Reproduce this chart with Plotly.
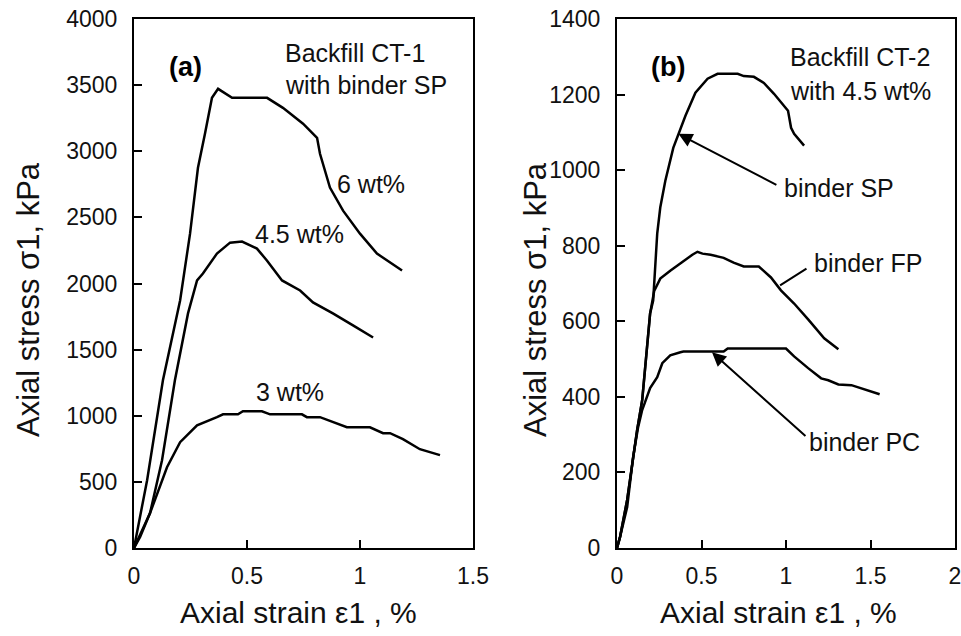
import plotly.graph_objects as go

# ---------------- data: panel (a) Backfill CT-1 with binder SP ----------------
a6_x = [0, 0.058, 0.128, 0.19, 0.204, 0.248, 0.283, 0.314, 0.345, 0.372, 0.434, 0.589,
        0.659, 0.748, 0.81, 0.823, 0.867, 0.925, 1.0, 1.075, 1.186]
a6_y = [0, 513, 1268, 1774, 1872, 2377, 2875, 3132, 3404, 3472, 3404, 3404,
        3328, 3208, 3102, 2981, 2725, 2551, 2377, 2226, 2098]

a45_x = [0, 0.071, 0.124, 0.181, 0.239, 0.279, 0.305, 0.367, 0.425, 0.478, 0.544, 0.588,
         0.655, 0.735, 0.792, 0.88, 0.969, 1.058]
a45_y = [0, 264, 664, 1268, 1774, 2023, 2075, 2226, 2309, 2317, 2264, 2174,
         2023, 1947, 1857, 1774, 1683, 1592]

a3_x = [0, 0.027, 0.071, 0.146, 0.204, 0.279, 0.367, 0.394, 0.46, 0.482, 0.566, 0.602,
        0.743, 0.765, 0.823, 0.942, 1.044, 1.102, 1.133, 1.19, 1.265, 1.354]
a3_y = [0, 83, 264, 611, 800, 928, 989, 1011, 1011, 1034, 1034, 1011,
        1011, 989, 989, 913, 913, 868, 868, 823, 747, 702]

# ---------------- data: panel (b) Backfill CT-2 with 4.5 wt% ----------------
sp_x = [0, 0.018, 0.06, 0.095, 0.119, 0.149, 0.179, 0.196, 0.214, 0.238, 0.256, 0.286,
        0.333, 0.363, 0.405, 0.464, 0.536, 0.595, 0.714, 0.75, 0.81, 0.869, 0.929,
        1.012, 1.03, 1.048, 1.107]
sp_y = [0, 29, 127, 240, 312, 391, 549, 621, 655, 832, 901, 972,
        1059, 1096, 1144, 1205, 1242, 1255, 1255, 1249, 1247, 1231, 1202,
        1157, 1112, 1096, 1065]

fp_x = [0, 0.018, 0.06, 0.095, 0.119, 0.149, 0.179, 0.196, 0.22, 0.256, 0.315, 0.393,
        0.446, 0.476, 0.506, 0.554, 0.631, 0.69, 0.75, 0.839, 0.911, 0.97, 1.048,
        1.131, 1.226, 1.31]
fp_y = [0, 29, 127, 240, 312, 391, 549, 621, 680, 713, 734, 760,
        776, 784, 779, 776, 768, 755, 745, 745, 716, 682, 647,
        605, 555, 526]

pc_x = [0, 0.018, 0.06, 0.095, 0.125, 0.149, 0.196, 0.238, 0.268, 0.315, 0.375, 0.393,
        0.631, 0.655, 1.0, 1.048, 1.131, 1.208, 1.25, 1.31, 1.387, 1.464, 1.554]
pc_y = [0, 29, 108, 240, 320, 365, 423, 452, 489, 510, 518, 520,
        520, 528, 528, 507, 476, 449, 444, 433, 431, 420, 407]

# ticks
a_xticks = [0, 0.5, 1, 1.5]
a_yticks = [0, 500, 1000, 1500, 2000, 2500, 3000, 3500, 4000]
b_xticks = [0, 0.5, 1, 1.5, 2]
b_yticks = [0, 200, 400, 600, 800, 1000, 1200, 1400]

FONT = "Arial, Liberation Sans, sans-serif"
LINE = dict(color="black", width=2.5)

# layout geometry (pixels)
W, H = 961, 636
ML, MR, MT, MB = 134, 6, 19, 88
PW, PH = W - ML - MR, H - MT - MB


def px_x(p):
    return (p - ML) / PW


def px_y(p):
    return (H - MB - p) / PH


fig = go.Figure()
for xs, ys in [(a6_x, a6_y), (a45_x, a45_y), (a3_x, a3_y)]:
    fig.add_trace(go.Scatter(x=xs, y=ys, mode="lines", line=LINE, xaxis="x", yaxis="y",
                             showlegend=False, hoverinfo="skip"))
for xs, ys in [(sp_x, sp_y), (fp_x, fp_y), (pc_x, pc_y)]:
    fig.add_trace(go.Scatter(x=xs, y=ys, mode="lines", line=LINE, xaxis="x2", yaxis="y2",
                             showlegend=False, hoverinfo="skip"))

axis_common = dict(showline=True, linecolor="black", linewidth=2, mirror=True,
                   ticks="inside", ticklen=8, tickwidth=2, tickcolor="black",
                   showgrid=False, zeroline=False, automargin=False,
                   ticklabeloverflow="allow",
                   tickfont=dict(family=FONT, size=23, color="#111"))

fig.update_layout(
    width=W, height=H,
    margin=dict(l=ML, r=MR, t=MT, b=MB, autoexpand=False),
    plot_bgcolor="white", paper_bgcolor="white",
    xaxis=dict(domain=[0, px_x(473)], range=[0, 1.5], tickvals=a_xticks,
               ticktext=["0", "0.5", "1", "1.5"], anchor="y", ticklabelstandoff=6,
               **axis_common),
    yaxis=dict(domain=[0, 1], range=[0, 4000], tickvals=a_yticks, anchor="x",
               ticklabelstandoff=10, **axis_common),
    xaxis2=dict(domain=[px_x(617), 1], range=[0, 2], tickvals=b_xticks,
                ticktext=["0", "0.5", "1", "1.5", "2"], anchor="y2", ticklabelstandoff=6,
                **axis_common),
    yaxis2=dict(domain=[0, 1], range=[0, 1400], tickvals=b_yticks, anchor="x2",
                ticklabelstandoff=10, **axis_common),
)

ann = []
TF = dict(family=FONT, size=25, color="#111")


def txt(x, y, s, xref, yref, xanchor="left", font=TF):
    ann.append(dict(x=x, y=y, xref=xref, yref=yref, text=s, showarrow=False,
                    xanchor=xanchor, yanchor="middle", font=font))


# panel (a)
txt(0.23, 3638, "<b>(a)</b>", "x", "y", "center", dict(family=FONT, size=27, color="black"))
txt(0.659, 3743, "Backfill CT-1", "x", "y")
txt(0.659, 3502, "with binder SP", "x", "y")
txt(0.889, 2755, "6 wt%", "x", "y")
txt(0.527, 2377, "4.5 wt%", "x", "y")
txt(0.531, 1177, "3 wt%", "x", "y")

# panel (b)
txt(0.304, 1273, "<b>(b)</b>", "x2", "y2", "center", dict(family=FONT, size=27, color="black"))
txt(1.012, 1300, "Backfill CT-2", "x2", "y2")
txt(1.012, 1210, "with 4.5 wt%", "x2", "y2")
txt(0.976, 954, "binder SP", "x2", "y2")
txt(1.153, 753, "binder FP", "x2", "y2")
txt(1.124, 280, "binder PC", "x2", "y2")


def arrow(x, y, ax, ay, head=2):
    ann.append(dict(x=x, y=y, ax=ax, ay=ay, xref="x2", yref="y2", axref="x2", ayref="y2",
                    text="", showarrow=True, arrowhead=head, arrowsize=1.4, arrowwidth=2,
                    arrowcolor="black", standoff=0, startstandoff=0))


arrow(0.363, 1096, 0.952, 959)
arrow(0.965, 695, 1.13, 742, head=0)
arrow(0.562, 518, 1.124, 293)

# axis titles
TT = dict(family=FONT, size=30, color="#111")
TY = dict(family=FONT, size=31, color="#111")
for cx in (28, 535):
    ann.append(dict(x=px_x(cx), y=px_y(300), xref="paper", yref="paper",
                    text="Axial stress σ1, kPa", textangle=-90, showarrow=False,
                    xanchor="center", yanchor="middle", font=TY))
for cx in (298, 778):
    ann.append(dict(x=px_x(cx), y=px_y(612), xref="paper", yref="paper",
                    text="Axial strain ε1 , %", showarrow=False,
                    xanchor="center", yanchor="middle", font=TT))

fig.update_layout(annotations=ann)
fig.write_html("out.html")
